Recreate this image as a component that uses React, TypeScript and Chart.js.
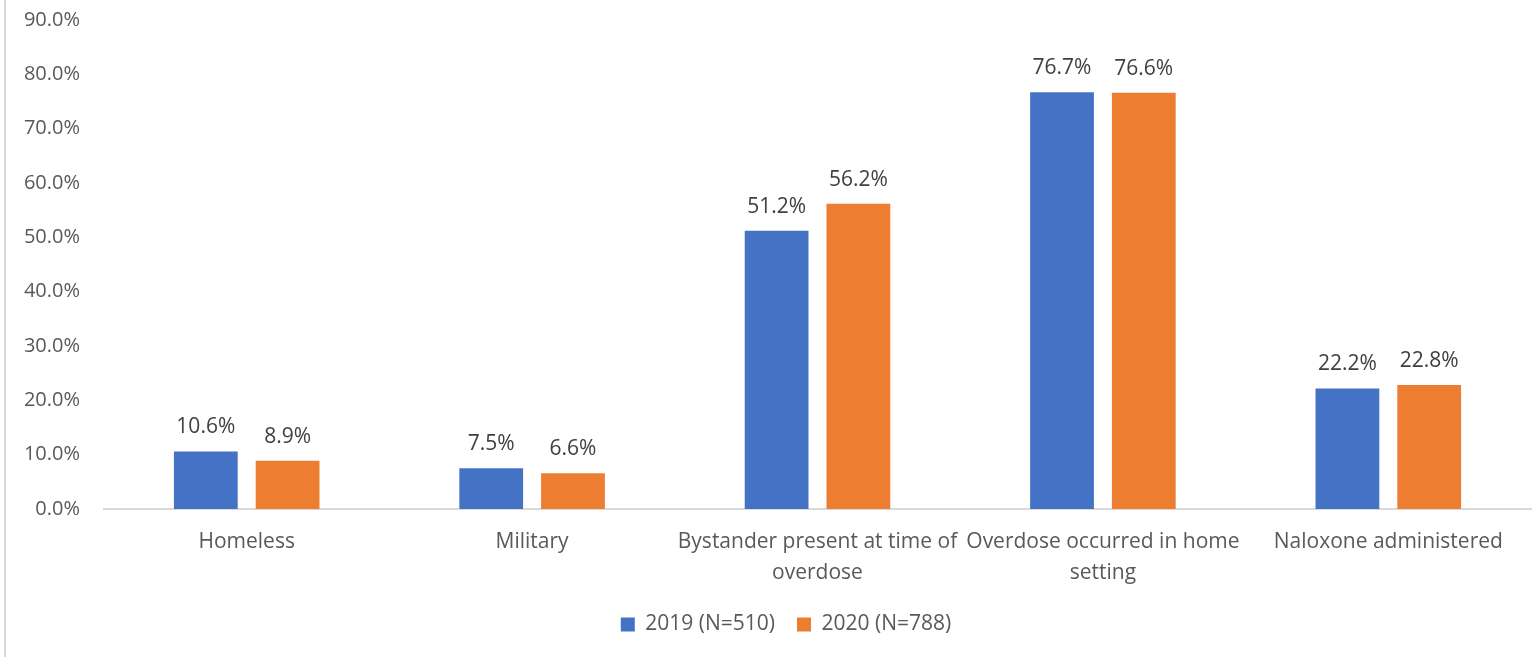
import React, { useEffect, useRef } from "react";
import { Chart, registerables } from "chart.js";

Chart.register(...registerables);

const categories: string[][] = [
  ["Homeless"],
  ["Military"],
  ["Bystander present at time of", "overdose"],
  ["Overdose occurred in home", "setting"],
  ["Naloxone administered"],
];
const series2019: number[] = [10.6, 7.5, 51.2, 76.7, 22.2];
const series2020: number[] = [8.9, 6.6, 56.2, 76.6, 22.8];
const seriesLabels: string[] = ["2019 (N=510)", "2020 (N=788)"];
const yTicks: number[] = [0, 10, 20, 30, 40, 50, 60, 70, 80, 90];

const FONT = "'Open Sans', 'Liberation Sans', sans-serif";

const dataLabelPlugin = {
  id: "dataLabels",
  afterDatasetsDraw(chart: any) {
    const ctx = chart.ctx;
    ctx.save();
    ctx.font = `21px ${FONT}`;
    ctx.fillStyle = "#404040";
    ctx.textAlign = "center";
    ctx.textBaseline = "middle";
    chart.data.datasets.forEach((ds: any, i: number) => {
      const meta = chart.getDatasetMeta(i);
      meta.data.forEach((el: any, j: number) => {
        ctx.fillText(ds.data[j].toFixed(1) + "%", el.x, el.y - 24);
      });
    });
    ctx.restore();
  },
};

const legendShiftPlugin = {
  id: "legendShift",
  afterUpdate(chart: any) {
    const lg = chart.legend;
    if (lg) {
      lg.left += 41;
      lg.adjustHitBoxes();
    }
  },
};

export default function App() {
  const ref = useRef<HTMLCanvasElement>(null);
  useEffect(() => {
    if (!ref.current) return;
    const chart = new Chart(ref.current, {
      type: "bar",
      data: {
        labels: categories,
        datasets: [
          { label: seriesLabels[0], data: series2019, backgroundColor: "#4472C4", categoryPercentage: 0.573, barPercentage: 0.78 },
          { label: seriesLabels[1], data: series2020, backgroundColor: "#ED7D31", categoryPercentage: 0.573, barPercentage: 0.78 },
        ],
      },
      options: {
        animation: false,
        responsive: false,
        maintainAspectRatio: false,
        layout: { padding: { left: 0, right: 2, top: 20, bottom: 12 } },
        plugins: {
          tooltip: { enabled: false },
          legend: {
            position: "bottom",
            labels: {
              boxWidth: 14,
              boxHeight: 14,
              color: "#595959",
              font: { family: FONT, size: 21 },
              padding: 22,
            },
          },
        },
        scales: {
          x: {
            grid: { display: false, drawTicks: false },
            border: { display: true, color: "#d9d9d9", width: 2 },
            ticks: {
              color: "#595959",
              font: { family: FONT, size: 21, lineHeight: 1.5 },
              padding: 17,
              maxRotation: 0,
              autoSkip: false,
            },
            afterFit: (s: any) => { s.height = 83; },
          },
          y: {
            min: 0,
            max: 90,
            afterBuildTicks: (s: any) => { s.ticks = yTicks.map((v) => ({ value: v })); },
            grid: { display: false, drawTicks: false },
            border: { display: false },
            ticks: {
              color: "#595959",
              font: { family: FONT, size: 20 },
              padding: 24,
              callback: (v: any) => Number(v).toFixed(1) + "%",
            },
            afterFit: (s: any) => { s.width = 104; s.paddingTop = 0; s.paddingBottom = 0; },
          },
        },
      },
      plugins: [dataLabelPlugin, legendShiftPlugin],
    });
    return () => chart.destroy();
  }, []);
  return (
    <div style={{ position: "fixed", left: 0, top: 0, width: 1533, height: 657, background: "#fff" }}>
      <div style={{ position: "absolute", left: 4, top: 0, width: 2, height: 657, background: "#d9d9d9" }} />
      <canvas ref={ref} width={1533} height={657} style={{ position: "absolute", left: 0, top: 0 }} />
    </div>
  );
}
